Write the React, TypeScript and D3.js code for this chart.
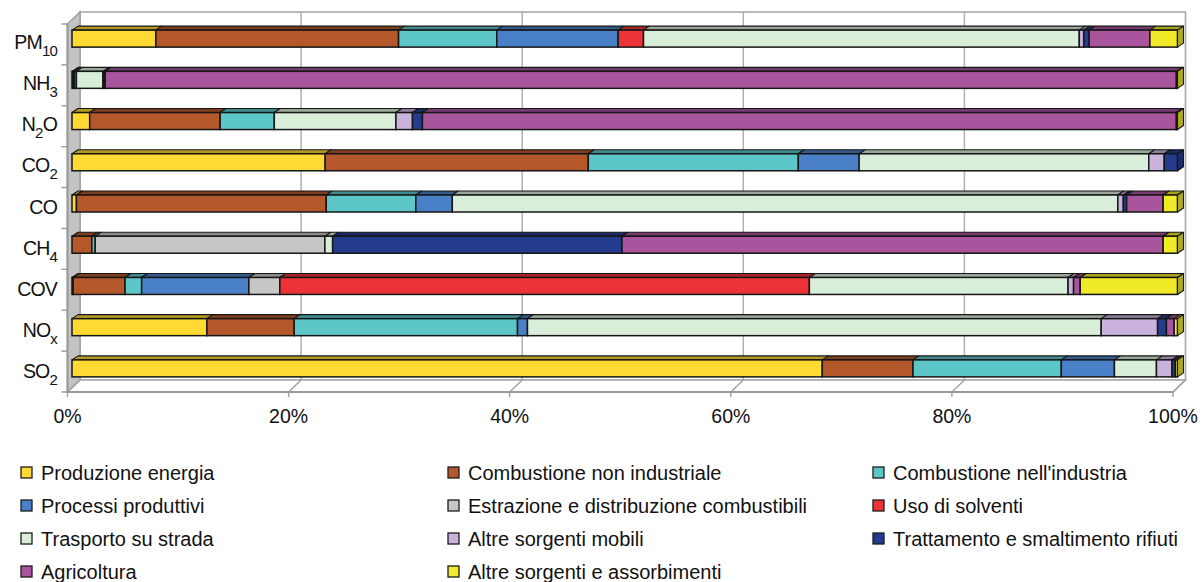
import React from 'react';
import * as d3 from 'd3';

const categories = ['PM10', 'NH3', 'N2O', 'CO2', 'CO', 'CH4', 'COV', 'NOx', 'SO2'];
// label pieces: [text, isSubscript]
const categoryLabels: [string, boolean][][] = [
  [['PM', false], ['10', true]],
  [['NH', false], ['3', true]],
  [['N', false], ['2', true], ['O', false]],
  [['CO', false], ['2', true]],
  [['CO', false]],
  [['CH', false], ['4', true]],
  [['COV', false]],
  [['NO', false], ['x', true]],
  [['SO', false], ['2', true]],
];

const seriesNames = [
  'Produzione energia',
  'Combustione non industriale',
  "Combustione nell'industria",
  'Processi produttivi',
  'Estrazione e distribuzione combustibili',
  'Uso di solventi',
  'Trasporto su strada',
  'Altre sorgenti mobili',
  'Trattamento e smaltimento rifiuti',
  'Agricoltura',
  'Altre sorgenti e assorbimenti',
];

// values (%) per category, in category order above
const produzioneEnergia = [7.6, 0, 1.6, 22.9, 0.4, 0, 0.1, 12.2, 67.8];
const combustioneNonInd = [22.0, 0.1, 11.8, 23.8, 22.6, 1.8, 4.7, 7.9, 8.2];
const combustioneInd = [8.9, 0.1, 4.9, 19.0, 8.1, 0.3, 1.5, 20.2, 13.4];
const processiProduttivi = [11.0, 0.2, 0, 5.5, 3.3, 0, 9.7, 0.9, 4.8];
const estrazione = [0, 0, 0, 0, 0, 20.8, 2.8, 0, 0];
const usoSolventi = [2.3, 0, 0, 0, 0, 0, 47.9, 0, 0];
const trasportoStrada = [39.5, 2.4, 11.0, 26.2, 60.2, 0.7, 23.4, 51.9, 3.8];
const altreMobili = [0.4, 0.1, 1.5, 1.4, 0.5, 0, 0.5, 5.1, 1.4];
const rifiuti = [0.5, 0.1, 0.9, 1.2, 0.3, 26.2, 0, 0.8, 0.3];
const agricoltura = [5.5, 96.8, 68.2, 0, 3.3, 49.0, 0.6, 0.7, 0];
const altreSorgenti = [2.5, 0.1, 0.1, 0, 1.3, 1.3, 8.8, 0.3, 0.2];

const seriesValues = [
  produzioneEnergia, combustioneNonInd, combustioneInd, processiProduttivi, estrazione,
  usoSolventi, trasportoStrada, altreMobili, rifiuti, agricoltura, altreSorgenti,
];

const colors = [
  '#FFDA33', '#B4572A', '#5CC6C9', '#4A80C8', '#C6C6C6', '#EE3338',
  '#D9EED9', '#C9B3DD', '#253C8E', '#A9559E', '#F1EA28',
];

const xTicks = [0, 0.2, 0.4, 0.6, 0.8, 1];

export default function App() {
  const W = 1202, H = 582;
  const DX = 12.5, DY = 12;
  const frontFloor = 392, backFloor = 380, backTop = 12, frontTop = backTop + DY;
  const xF = d3.scaleLinear().domain([0, 1]).range([67.5, 1173]);
  const yBand = d3.scaleBand<string>().domain(categories).range([18, 389]);
  const barH = 17, bdx = 6, bdy = 4, barShift = 4.5;

  const rows = categories.map((c, i) => {
    const r: any = { cat: c };
    seriesNames.forEach((s, j) => { r[s] = seriesValues[j][i]; });
    return r;
  });
  const stack = d3.stack<any>().keys(seriesNames).offset(d3.stackOffsetExpand);
  const stacked = stack(rows);

  const font = "'Liberation Sans', Arial, sans-serif";
  const stroke = '#161616';
  const textFill = '#111';

  const bars: React.ReactNode[] = [];
  categories.forEach((c, ci) => {
    const y = (yBand(c) as number) + yBand.bandwidth() / 2 - barH / 2;
    let lastIdx = -1;
    stacked.forEach((s, si) => { if (s[ci][1] - s[ci][0] > 0) lastIdx = si; });
    stacked.forEach((s, si) => {
      const v0 = s[ci][0], v1 = s[ci][1];
      if (v1 - v0 <= 0) return;
      const x0 = xF(v0) + barShift, x1 = xF(v1) + barShift;
      const col = colors[si];
      const top = d3.color(col)!.darker(1).formatHex();
      bars.push(
        <g key={`${c}-${si}`}>
          <polygon points={`${x0},${y} ${x0 + bdx},${y - bdy} ${x1 + bdx},${y - bdy} ${x1},${y}`}
            fill={top} stroke={stroke} strokeWidth={1.1} strokeLinejoin="round" />
          <rect x={x0} y={y} width={x1 - x0} height={barH} fill={col} stroke={stroke} strokeWidth={1.5} />
          {si === lastIdx && (
            <polygon points={`${x1},${y} ${x1 + bdx},${y - bdy} ${x1 + bdx},${y + barH - bdy} ${x1},${y + barH}`}
              fill={d3.color(col)!.darker(0.9).formatHex()} stroke={stroke} strokeWidth={1.1} strokeLinejoin="round" />
          )}
        </g>
      );
    });
  });

  const catTicks = d3.range(10).map(i => frontTop + (frontFloor - frontTop) * i / 9);

  const legendCols = [21, 448, 873];
  const legendRows = [473, 506, 539, 572];

  return (
    <svg width={W} height={H} style={{ position: 'absolute', left: 0, top: 0, background: '#fff' }}
      fontFamily={font}>
      {/* back wall */}
      <rect x={xF(0) + DX} y={backTop} width={xF(1) - xF(0)} height={backFloor - backTop}
        fill="#fff" stroke="#a8a8a8" strokeWidth={1.6} />
      {xTicks.slice(1, -1).map(t => (
        <line key={t} x1={xF(t) + DX} x2={xF(t) + DX} y1={backTop} y2={backFloor} stroke="#b0b0b0" strokeWidth={1.5} />
      ))}
      {/* left wall */}
      <polygon points={`${xF(0)},${frontTop} ${xF(0) + DX},${backTop} ${xF(0) + DX},${backFloor} ${xF(0)},${frontFloor}`}
        fill="#c3c3c3" stroke="#a0a0a0" strokeWidth={1.5} />
      {/* floor */}
      <polygon points={`${xF(0)},${frontFloor} ${xF(0) + DX},${backFloor} ${xF(1) + DX},${backFloor} ${xF(1)},${frontFloor}`}
        fill="#fff" stroke="#a8a8a8" strokeWidth={1.5} />
      {xTicks.map(t => (
        <g key={t}>
          <line x1={xF(t) + DX} y1={backFloor} x2={xF(t)} y2={frontFloor} stroke="#a0a0a0" strokeWidth={1.4} />
          <line x1={xF(t)} y1={frontFloor} x2={xF(t)} y2={frontFloor + 5} stroke="#a0a0a0" strokeWidth={1.4} />
          <text x={xF(t)} y={423} textAnchor="middle" fontSize={19.5} fill={textFill}>{`${Math.round(t * 100)}%`}</text>
        </g>
      ))}
      <line x1={xF(0)} x2={xF(1)} y1={frontFloor} y2={frontFloor} stroke="#9a9a9a" strokeWidth={2} />
      <line x1={xF(0)} x2={xF(0)} y1={frontTop} y2={frontFloor} stroke="#9a9a9a" strokeWidth={2} />
      {catTicks.map((ty, i) => (
        <line key={i} x1={xF(0) - 6} x2={xF(0)} y1={ty} y2={ty} stroke="#9a9a9a" strokeWidth={1.4} />
      ))}
      {bars}
      {/* category labels */}
      {categories.map((c, ci) => {
        const cy = (yBand(c) as number) + yBand.bandwidth() / 2 + 10;
        const parts = categoryLabels[ci];
        let sub = false;
        return (
          <text key={c} x={57} y={cy} textAnchor="end" fontSize={19.5} letterSpacing={-0.8} fill={textFill}>
            {parts.map(([txt, isSub], k) => {
              let dy = 0;
              if (isSub && !sub) dy = 7;
              if (!isSub && sub) dy = -7;
              sub = isSub;
              return <tspan key={k} dy={dy} fontSize={isSub ? 15 : 19.5}>{txt}</tspan>;
            })}
          </text>
        );
      })}
      {/* legend */}
      {seriesNames.map((s, i) => {
        const col = i % 3, row = Math.floor(i / 3);
        const lx = legendCols[col], ly = legendRows[row];
        return (
          <g key={s}>
            <rect x={lx} y={ly - 6} width={11} height={11} fill={colors[i]} stroke="#1c1c1c" strokeWidth={1.3} />
            <text x={lx + 20} y={ly + 7} fontSize={20} fill={textFill}>{s}</text>
          </g>
        );
      })}
    </svg>
  );
}
